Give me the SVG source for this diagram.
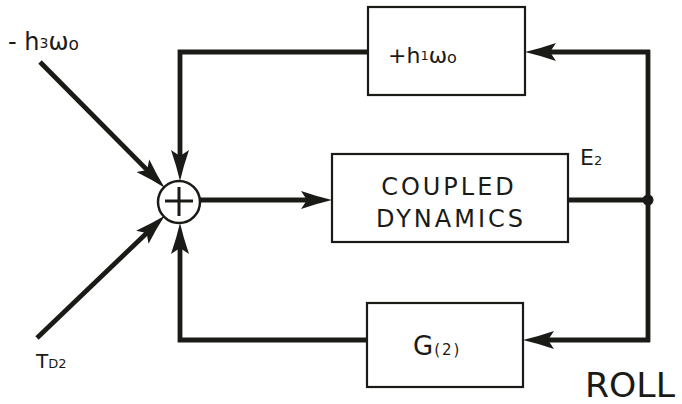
<svg xmlns="http://www.w3.org/2000/svg" width="682" height="404" viewBox="0 0 682 404">
  <style>
    .box { fill: #fff; stroke: #1a1a16; stroke-width: 2.2; }
    .wire { fill: none; stroke: #1a1a16; stroke-width: 4.8; stroke-linejoin: miter; }
    .arrow { marker-end: url(#head); }
    text { font-family: "DejaVu Sans", "Liberation Sans", sans-serif; fill: #1a1a16; }
  </style>
  <defs>
    <marker id="head" markerUnits="userSpaceOnUse" markerWidth="36" markerHeight="20" viewBox="0 -10 36 20" refX="8" refY="0" orient="auto">
      <path d="M0,-9 Q16,-3.5 31,0 Q16,3.5 0,9 L6,0 z" fill="#1a1a16"/>
    </marker>
  </defs>

  <!-- connectors -->
  <g id="connectors">
    <path class="wire arrow" d="M40,62 L148.5,171.4"/>
    <path class="wire arrow" d="M37,338 L148.1,231.7"/>
    <path class="wire arrow" d="M368,52 H180 V158"/>
    <path class="wire arrow" d="M367,340 H180 V246"/>
    <path class="wire arrow" d="M200,200 H309"/>
    <path class="wire" d="M568,200 H648"/>
    <path class="wire" d="M648,50 V342"/>
    <path class="wire arrow" d="M650,52 H548"/>
    <path class="wire arrow" d="M650,340 H546"/>
    <circle cx="648" cy="200" r="5.5" fill="#1a1a16"/>
  </g>

  <!-- summing junction -->
  <g id="sum">
    <circle cx="179" cy="202" r="21" fill="#fff" stroke="#1a1a16" stroke-width="2.5"/>
    <path d="M165,201 H193 M179,187 V216" stroke="#1a1a16" stroke-width="3" fill="none"/>
  </g>

  <!-- feedback block +h1w0 -->
  <g id="h1">
    <rect class="box" x="368" y="7" width="157" height="88"/>
    <text x="388" y="63" font-size="22">+h<tspan font-size="13" dy="-3">1</tspan><tspan dy="3">ω</tspan><tspan font-size="16">o</tspan></text>
  </g>

  <!-- plant block -->
  <g id="plant">
    <rect class="box" x="332" y="154" width="236" height="88"/>
    <text x="449" y="195" font-size="24" text-anchor="middle" letter-spacing="3">COUPLED</text>
    <text x="451" y="227" font-size="24" text-anchor="middle" letter-spacing="3">DYNAMICS</text>
  </g>

  <!-- feedback block G(2) -->
  <g id="g2">
    <rect class="box" x="367" y="303" width="156" height="84"/>
    <text x="413" y="355" font-size="26">G<tspan font-size="15" dx="1" letter-spacing="2">(2)</tspan></text>
  </g>

  <!-- signal labels -->
  <g id="labels">
    <text x="8" y="50" font-size="24">- h<tspan font-size="14" dy="-2">3</tspan><tspan dy="2">ω</tspan><tspan font-size="17">o</tspan></text>
    <text x="36" y="368" font-size="20">T<tspan font-size="13">D2</tspan></text>
    <text x="580" y="165" font-size="22">E<tspan font-size="13">2</tspan></text>
    <text x="585" y="397" font-size="34" font-family="Liberation Sans, sans-serif" textLength="90" lengthAdjust="spacingAndGlyphs">ROLL</text>
  </g>
</svg>
